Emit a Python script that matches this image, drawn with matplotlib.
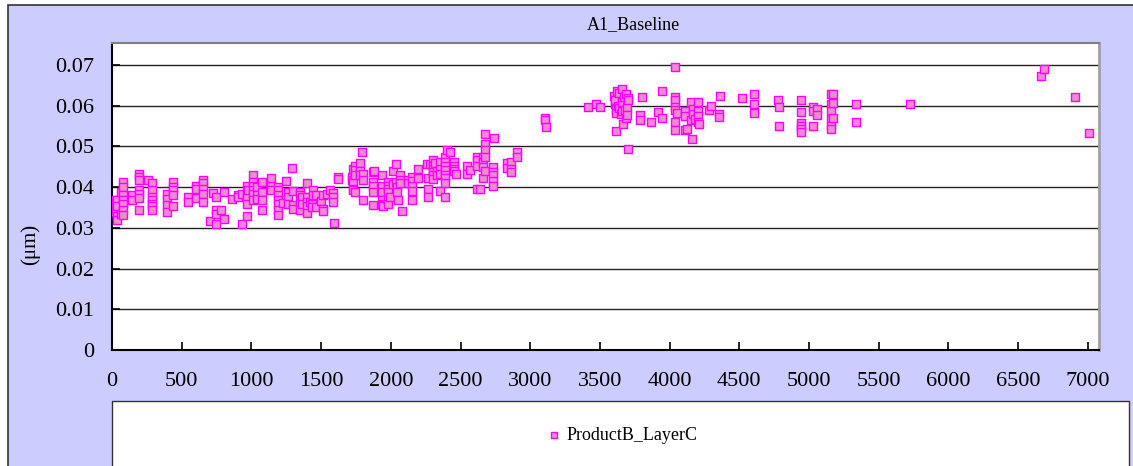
import numpy as np
import matplotlib
matplotlib.use("Agg")
import matplotlib.pyplot as plt
from matplotlib.patches import Rectangle

plt.rcParams['font.family'] = ['Liberation Serif', 'DejaVu Serif']

title = "A1_Baseline"
ylabel = "(\u03bcm)"
series_name = "ProductB_LayerC"
xticks = list(range(0, 7001, 500))
yticks = [0, 0.01, 0.02, 0.03, 0.04, 0.05, 0.06, 0.07]
ytick_labels = ["0", "0.01", "0.02", "0.03", "0.04", "0.05", "0.06", "0.07"]

x_vals = [
    10, 15, 21, 21, 30, 30, 33, 38, 38, 38,
    62, 62, 81, 81, 81, 81, 81, 81, 81, 141, 141,
    194, 194, 194, 194, 194, 194, 194, 256,
    289, 289, 289, 289, 289, 289, 289,
    392, 392, 392, 392, 440, 440, 440, 440, 440,
    543, 543, 600, 600, 600, 655, 655, 655, 655, 655,
    703, 727, 746, 746, 746, 746, 779, 803, 803, 863, 906, 906,
    930, 930, 966, 966, 966, 966, 966, 978,
    1014, 1014, 1014, 1014, 1014, 1014, 1038, 1038, 1038,
    1073, 1073, 1073, 1073, 1138, 1138, 1138,
    1193, 1193, 1193, 1193, 1193, 1193, 1193, 1229, 1248,
    1265, 1265, 1265, 1291, 1296, 1296, 1296,
    1348, 1348, 1348, 1348, 1348, 1360, 1360,
    1396, 1396, 1396, 1396, 1396, 1420, 1432, 1432, 1444, 1444,
    1463, 1463, 1497, 1516, 1516, 1516, 1540, 1563, 1583, 1583, 1583, 1592,
    1623, 1623, 1719, 1719, 1731, 1731, 1731, 1731, 1743, 1743, 1743, 1743,
    1779, 1779, 1779, 1791, 1798, 1798, 1798,
    1870, 1870, 1870, 1870, 1870, 1879,
    1934, 1934, 1934, 1934, 1934, 1934, 1946,
    1982, 1982, 1982, 1982, 1982, 1982, 1994,
    2018, 2018, 2037, 2037, 2042, 2042, 2054, 2066, 2066, 2066, 2078,
    2125, 2125, 2149, 2149, 2149, 2149, 2149, 2197, 2197,
    2262, 2269, 2269, 2269, 2281,
    2305, 2305, 2305, 2305, 2305, 2305, 2317, 2329, 2329,
    2352, 2352, 2352, 2352,
    2388, 2388, 2388, 2388, 2388, 2388, 2388, 2388, 2400, 2424,
    2453, 2453, 2453, 2453, 2465, 2544, 2544, 2568, 2616, 2616, 2616, 2620,
    2639, 2658, 2658, 2658, 2658, 2675, 2675, 2675, 2675, 2675,
    2735, 2735, 2735, 2735, 2735, 2742, 2835, 2835, 2862, 2862, 2862,
    2902, 2902, 3105, 3105, 3113,
    3416, 3471, 3500,
    3600, 3608, 3610, 3615, 3615, 3615, 3620, 3630, 3640, 3640, 3650,
    3655, 3655, 3655, 3663, 3670, 3680, 3690, 3690, 3691, 3696, 3700, 3703, 3703,
    3787, 3787, 3800, 3863, 3918, 3942, 3942,
    4038, 4038, 4038, 4038, 4038, 4038, 4038, 4050,
    4110, 4110, 4110, 4122, 4150, 4150, 4157, 4169, 4169, 4181,
    4201, 4201, 4201, 4201, 4212, 4284, 4294, 4353, 4353, 4361,
    4516, 4604, 4604, 4604, 4774, 4784, 4784,
    4939, 4939, 4939, 4939, 4939, 4939, 5030, 5030, 5030, 5054, 5054,
    5161, 5161, 5161, 5161, 5161, 5161, 5169, 5173, 5173,
    5334, 5334, 5723, 6663, 6684, 6911, 7005,
]
y_vals = [
    0.0350, 0.0340, 0.0369, 0.0364, 0.0364, 0.0345, 0.0330, 0.0369, 0.0353, 0.0320,
    0.0388, 0.0333, 0.0413, 0.0400, 0.0380, 0.0369, 0.0359, 0.0345, 0.0331, 0.0380, 0.0369,
    0.0433, 0.0426, 0.0418, 0.0394, 0.0384, 0.0373, 0.0343, 0.0417,
    0.0409, 0.0394, 0.0376, 0.0369, 0.0359, 0.0353, 0.0343,
    0.0384, 0.0372, 0.0355, 0.0339, 0.0413, 0.0400, 0.0392, 0.0380, 0.0353,
    0.0377, 0.0364, 0.0404, 0.0396, 0.0373, 0.0417, 0.0409, 0.0396, 0.0384, 0.0364,
    0.0317, 0.0386, 0.0377, 0.0343, 0.0333, 0.0310, 0.0345, 0.0388, 0.0322, 0.0372, 0.0380, 0.0376,
    0.0384, 0.0310, 0.0404, 0.0384, 0.0376, 0.0359, 0.0328, 0.0394,
    0.0429, 0.0413, 0.0404, 0.0392, 0.0384, 0.0369, 0.0400, 0.0380, 0.0372,
    0.0413, 0.0388, 0.0368, 0.0345, 0.0423, 0.0404, 0.0394,
    0.0400, 0.0392, 0.0380, 0.0368, 0.0359, 0.0343, 0.0331, 0.0361, 0.0414,
    0.0388, 0.0377, 0.0359, 0.0448, 0.0390, 0.0355, 0.0347,
    0.0388, 0.0380, 0.0368, 0.0361, 0.0345, 0.0376, 0.0359,
    0.0409, 0.0376, 0.0364, 0.0353, 0.0337, 0.0364, 0.0359, 0.0350, 0.0392, 0.0380,
    0.0380, 0.0350, 0.0366, 0.0380, 0.0347, 0.0341, 0.0382, 0.0392, 0.0386, 0.0376, 0.0364, 0.0313,
    0.0426, 0.0421, 0.0426, 0.0418, 0.0445, 0.0413, 0.0396, 0.0392, 0.0451, 0.0441, 0.0431, 0.0388,
    0.0459, 0.0440, 0.0429, 0.0486, 0.0433, 0.0418, 0.0369,
    0.0437, 0.0413, 0.0402, 0.0388, 0.0355, 0.0440,
    0.0429, 0.0404, 0.0388, 0.0369, 0.0359, 0.0355, 0.0353,
    0.0413, 0.0402, 0.0396, 0.0388, 0.0369, 0.0359, 0.0376,
    0.0440, 0.0407, 0.0458, 0.0413, 0.0400, 0.0388, 0.0369, 0.0429, 0.0417, 0.0409, 0.0341,
    0.0418, 0.0410, 0.0425, 0.0415, 0.0404, 0.0391, 0.0368, 0.0445, 0.0423,
    0.0458, 0.0423, 0.0396, 0.0377, 0.0458,
    0.0466, 0.0453, 0.0445, 0.0437, 0.0429, 0.0421, 0.0459, 0.0440, 0.0429,
    0.0462, 0.0445, 0.0433, 0.0391,
    0.0474, 0.0462, 0.0453, 0.0441, 0.0431, 0.0423, 0.0410, 0.0376, 0.0490, 0.0486,
    0.0462, 0.0453, 0.0445, 0.0440, 0.0433, 0.0451, 0.0433, 0.0441, 0.0475, 0.0466, 0.0451, 0.0396,
    0.0396, 0.0474, 0.0462, 0.0449, 0.0423, 0.0531, 0.0507, 0.0492, 0.0474, 0.0439,
    0.0449, 0.0437, 0.0429, 0.0415, 0.0404, 0.0521, 0.0459, 0.0447, 0.0462, 0.0445, 0.0437,
    0.0486, 0.0475, 0.0570, 0.0565, 0.0547,
    0.0598, 0.0605, 0.0598,
    0.0625, 0.0605, 0.0615, 0.0592, 0.0582, 0.0539, 0.0635, 0.0600, 0.0630, 0.0595, 0.0580,
    0.0640, 0.0609, 0.0588, 0.0554, 0.0622, 0.0590, 0.0628, 0.0570, 0.0598, 0.0576, 0.0618, 0.0613, 0.0494,
    0.0576, 0.0564, 0.0622, 0.0561, 0.0584, 0.0570, 0.0636,
    0.0696, 0.0621, 0.0613, 0.0596, 0.0590, 0.0560, 0.0541, 0.0582,
    0.0587, 0.0574, 0.0541, 0.0543, 0.0609, 0.0564, 0.0519, 0.0592, 0.0580, 0.0568,
    0.0609, 0.0588, 0.0574, 0.0560, 0.0556, 0.0590, 0.0600, 0.0580, 0.0572, 0.0625,
    0.0618, 0.0629, 0.0605, 0.0582, 0.0613, 0.0598, 0.0551,
    0.0615, 0.0584, 0.0557, 0.0549, 0.0543, 0.0535, 0.0598, 0.0588, 0.0551, 0.0592, 0.0578,
    0.0629, 0.0603, 0.0588, 0.0568, 0.0551, 0.0543, 0.0629, 0.0606, 0.0570,
    0.0605, 0.0561, 0.0605, 0.0673, 0.0689, 0.0621, 0.0534,
]

W, H = 1133, 466
fig = plt.figure(figsize=(W / 100, H / 100), dpi=100, facecolor='white')

# lavender chart area with its dark border (right/bottom edges run off the picture)
fig.patches.append(Rectangle((8 / W, -0.05), 1.2, (H - 5) / H + 0.05,
                             transform=fig.transFigure, facecolor='#ccccff',
                             edgecolor='#333333', linewidth=1.2, zorder=0))
# legend box
fig.patches.append(Rectangle((112 / W, -0.05), (1129 - 112) / W, (H - 401) / H + 0.05,
                             transform=fig.transFigure, facecolor='white',
                             edgecolor='#333333', linewidth=1.0, zorder=1))

ax = fig.add_axes([112 / W, (H - 350) / H, (1099 - 112) / W, (350 - 43) / H])
ax.set_zorder(2)
ax.set_facecolor('white')

ax.scatter(x_vals, y_vals, marker='s', s=27, facecolor='#f08ad2',
           edgecolor='#ff00ff', linewidth=1.0, zorder=3, label=series_name)

ax.set_xlim(0, 7080)
ax.set_ylim(0, 0.0754)
ax.set_xticks(xticks)
ax.set_xticklabels([str(t) for t in xticks])
ax.set_yticks(yticks)
ax.set_yticklabels(ytick_labels)
ax.grid(axis='y', color='#222222', linewidth=1.0)
ax.set_axisbelow(True)

ax.tick_params(axis='both', direction='in', length=6, width=1.2, color='black',
               labelsize=16)
ax.tick_params(axis='y', pad=13)
ax.tick_params(axis='x', pad=16)

for s in ['left', 'bottom']:
    ax.spines[s].set_color('black')
    ax.spines[s].set_linewidth(1.5)
ax.spines['top'].set_color('#808080')
ax.spines['top'].set_linewidth(1.5)
ax.spines['right'].set_color('#a0a0a0')
ax.spines['right'].set_linewidth(2)

fig.text(633 / W, 1 - 25 / H, title, ha='center', va='center', fontsize=13)
fig.text(30 / W, 1 - 244 / H, ylabel, ha='center', va='center', rotation=90,
         fontsize=15)

leg = fig.legend(loc='center', bbox_to_anchor=(623 / W, 1 - 435 / H),
                 frameon=False, fontsize=13, handlelength=0.6,
                 handletextpad=0.4, markerscale=0.8)
leg.set_zorder(5)

fig.savefig('out.png', dpi=100, facecolor=fig.get_facecolor())
